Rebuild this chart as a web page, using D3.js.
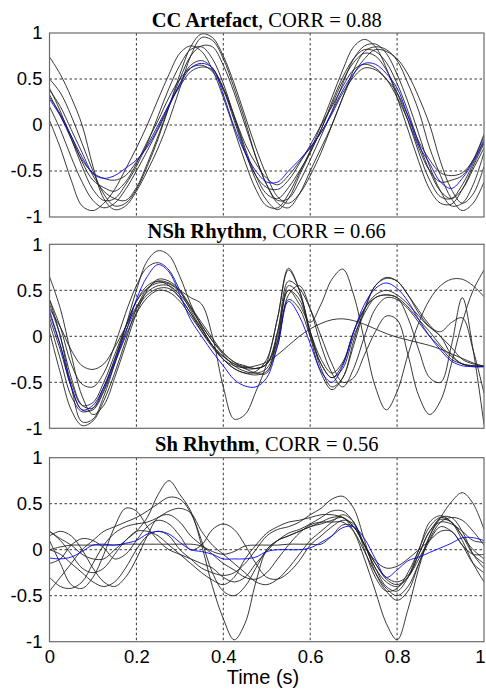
<!DOCTYPE html>
<html><head><meta charset="utf-8">
<script src="https://cdn.jsdelivr.net/npm/d3@7"></script>
<style>body{margin:0;background:#fff}</style>
</head><body><svg id="chart" width="486" height="689"></svg>
<script>
const times = [0,0.025,0.05,0.075,0.1,0.125,0.15,0.175,0.2,0.225,0.25,0.275,0.3,0.325,0.35,0.375,0.4,0.425,0.45,0.475,0.5,0.525,0.55,0.575,0.6,0.625,0.65,0.675,0.7,0.725,0.75,0.775,0.8,0.825,0.85,0.875,0.9,0.925,0.95,0.975,1];
const xTicks = [0,0.2,0.4,0.6,0.8,1];
const xTickLabels = ["0","0.2","0.4","0.6","0.8","1"];
const yTicks = [-1,-0.5,0,0.5,1];
const yTickLabels = ["-1","-0.5","0","0.5","1"];
const titleBold = ["CC Artefact","NSh Rhythm","Sh Rhythm"];
const titleRest = [", CORR = 0.88",", CORR = 0.66",", CORR = 0.56"];
const xAxisLabel = "Time (s)";

// Panel 1: CC Artefact
const cc1 = [0.74,0.55,0.30,0.00,-0.45,-0.80,-0.92,-0.88,-0.72,-0.50,-0.25,0.05,0.40,0.75,0.95,0.92,0.72,0.40,0.05,-0.35,-0.65,-0.85,-0.90,-0.75,-0.50,-0.25,0.00,0.30,0.60,0.80,0.85,0.82,0.70,0.45,0.15,-0.25,-0.55,-0.80,-0.93,-0.85,-0.62];
const cc2 = [0.05,-0.25,-0.60,-0.88,-0.93,-0.85,-0.70,-0.48,-0.25,0.00,0.28,0.55,0.78,0.86,0.80,0.60,0.30,-0.05,-0.40,-0.70,-0.88,-0.90,-0.75,-0.52,-0.28,0.00,0.30,0.60,0.85,0.93,0.85,0.62,0.30,-0.05,-0.40,-0.70,-0.85,-0.86,-0.70,-0.45,-0.20];
const cc3 = [0.40,0.15,-0.15,-0.45,-0.70,-0.82,-0.80,-0.65,-0.45,-0.20,0.10,0.40,0.65,0.82,0.85,0.72,0.45,0.10,-0.25,-0.55,-0.75,-0.80,-0.68,-0.50,-0.30,-0.05,0.25,0.52,0.72,0.82,0.80,0.68,0.45,0.15,-0.20,-0.50,-0.72,-0.80,-0.70,-0.48,-0.25];
const cc4 = [0.50,0.35,0.10,-0.20,-0.50,-0.75,-0.88,-0.85,-0.70,-0.45,-0.15,0.20,0.55,0.85,0.99,0.95,0.75,0.45,0.10,-0.25,-0.55,-0.78,-0.85,-0.75,-0.55,-0.30,0.00,0.30,0.55,0.72,0.82,0.80,0.72,0.55,0.30,0.00,-0.40,-0.70,-0.85,-0.75,-0.45];
const cc5 = [0.33,0.10,-0.15,-0.38,-0.52,-0.58,-0.60,-0.55,-0.40,-0.22,0.00,0.22,0.42,0.58,0.63,0.60,0.40,0.10,-0.20,-0.42,-0.58,-0.65,-0.55,-0.40,-0.25,-0.08,0.12,0.35,0.52,0.62,0.60,0.50,0.35,0.10,-0.18,-0.38,-0.52,-0.55,-0.52,-0.38,-0.12];
const cc6 = [0.20,-0.05,-0.35,-0.62,-0.82,-0.90,-0.85,-0.70,-0.50,-0.28,-0.05,0.20,0.45,0.65,0.70,0.62,0.40,0.08,-0.28,-0.60,-0.82,-0.92,-0.80,-0.55,-0.30,-0.05,0.22,0.48,0.68,0.78,0.75,0.60,0.35,0.05,-0.30,-0.60,-0.78,-0.80,-0.65,-0.42,-0.18];
const cc7 = [0.30,0.12,-0.12,-0.40,-0.60,-0.68,-0.72,-0.62,-0.42,-0.18,0.05,0.30,0.50,0.62,0.65,0.58,0.38,0.05,-0.30,-0.55,-0.68,-0.70,-0.60,-0.42,-0.22,0.00,0.20,0.42,0.60,0.66,0.62,0.50,0.30,0.05,-0.25,-0.50,-0.62,-0.60,-0.55,-0.38,-0.10];
const cc8 = [0.38,0.20,-0.05,-0.30,-0.55,-0.72,-0.80,-0.82,-0.68,-0.42,-0.12,0.20,0.50,0.75,0.86,0.85,0.65,0.35,0.00,-0.35,-0.65,-0.82,-0.80,-0.62,-0.38,-0.12,0.15,0.45,0.72,0.86,0.88,0.78,0.55,0.25,-0.10,-0.45,-0.72,-0.88,-0.85,-0.65,-0.30];
const ccMean = [0.28,0.10,-0.12,-0.35,-0.53,-0.58,-0.55,-0.47,-0.38,-0.24,-0.03,0.22,0.44,0.62,0.67,0.62,0.33,-0.02,-0.30,-0.50,-0.62,-0.62,-0.50,-0.38,-0.24,-0.08,0.14,0.38,0.56,0.67,0.66,0.56,0.40,0.10,-0.22,-0.42,-0.62,-0.69,-0.58,-0.40,-0.16];

// Panel 2: NSh Rhythm
const nsh1 = [0.40,0.00,-0.55,-0.93,-0.90,-0.65,-0.30,0.10,0.50,0.82,0.93,0.88,0.65,0.35,0.10,-0.10,-0.25,-0.35,-0.40,-0.38,-0.25,0.20,0.72,0.50,0.05,-0.35,-0.55,-0.45,-0.05,0.30,0.55,0.63,0.60,0.45,0.25,0.10,0.00,-0.20,-0.30,-0.32,-0.32];
const nsh2 = [0.65,0.30,-0.20,-0.65,-0.85,-0.75,-0.45,-0.10,0.25,0.50,0.62,0.60,0.50,0.32,0.12,-0.05,-0.20,-0.32,-0.38,-0.40,-0.35,-0.05,0.55,0.45,0.05,-0.30,-0.45,-0.35,0.00,0.25,0.42,0.45,0.42,0.32,0.18,0.05,-0.10,-0.22,-0.30,-0.33,-0.33];
const nsh3 = [0.30,0.10,-0.15,-0.32,-0.36,-0.30,-0.12,0.10,0.32,0.48,0.55,0.55,0.45,0.30,0.12,-0.05,-0.18,-0.28,-0.32,-0.35,-0.30,0.00,0.50,0.40,0.05,-0.25,-0.40,-0.28,0.05,0.30,0.45,0.50,0.45,0.35,0.22,0.10,0.05,0.15,0.20,-0.15,-0.62];
const nsh4 = [0.20,-0.15,-0.55,-0.80,-0.80,-0.60,-0.30,0.00,0.25,0.42,0.50,0.48,0.38,0.22,0.05,-0.10,-0.22,-0.30,-0.33,-0.35,-0.30,-0.05,0.45,0.55,0.30,-0.10,-0.40,-0.55,-0.35,0.00,0.30,0.42,0.40,0.30,0.15,0.00,-0.12,-0.25,-0.30,-0.32,-0.33];
const nsh5 = [0.05,-0.40,-0.80,-0.97,-0.92,-0.70,-0.40,-0.05,0.30,0.52,0.60,0.58,0.50,0.42,0.35,0.00,-0.55,-0.90,-0.85,-0.60,-0.30,0.20,0.74,0.50,0.00,-0.40,-0.58,-0.45,-0.10,0.28,0.55,0.64,0.60,0.45,0.28,0.12,0.00,-0.12,-0.25,-0.30,-0.32];
const nsh6 = [0.25,-0.10,-0.50,-0.75,-0.72,-0.50,-0.20,0.10,0.38,0.55,0.60,0.55,0.42,0.25,0.05,-0.12,-0.25,-0.32,-0.34,-0.32,-0.28,-0.20,-0.10,0.00,0.08,0.14,0.18,0.19,0.17,0.13,0.08,0.03,-0.01,-0.04,-0.07,-0.10,-0.14,-0.19,-0.24,-0.29,-0.33];
const nsh7 = [0.35,0.00,-0.45,-0.75,-0.78,-0.58,-0.25,0.10,0.38,0.52,0.58,0.57,0.48,0.32,0.15,-0.02,-0.18,-0.28,-0.35,-0.40,-0.40,0.05,0.50,0.35,0.15,0.35,0.62,0.73,0.45,-0.05,-0.55,-0.80,-0.60,-0.20,0.15,0.40,0.55,0.62,0.62,0.55,0.43];
const nsh8 = [0.40,0.10,-0.30,-0.52,-0.55,-0.40,-0.10,0.25,0.55,0.75,0.80,0.72,0.50,0.28,0.08,-0.10,-0.22,-0.30,-0.35,-0.35,-0.30,0.05,0.60,0.52,0.30,0.00,-0.30,-0.50,-0.45,-0.20,0.05,0.22,0.18,-0.20,-0.65,-0.85,-0.70,-0.30,0.15,0.50,0.72];
const nsh9 = [0.15,-0.25,-0.65,-0.82,-0.78,-0.55,-0.25,0.05,0.30,0.45,0.52,0.52,0.42,0.25,0.08,-0.10,-0.25,-0.35,-0.40,-0.42,-0.38,-0.10,0.40,0.30,0.00,-0.30,-0.45,-0.30,0.05,0.30,0.42,0.45,0.42,0.20,-0.15,-0.45,-0.50,-0.10,0.42,-0.15,-0.96];
const nshMean = [0.28,-0.10,-0.55,-0.80,-0.75,-0.55,-0.28,0.03,0.40,0.65,0.78,0.70,0.45,0.18,0.00,-0.17,-0.32,-0.47,-0.54,-0.55,-0.45,-0.10,0.38,0.22,-0.08,-0.38,-0.50,-0.32,0.05,0.35,0.52,0.58,0.52,0.38,0.18,0.00,-0.15,-0.27,-0.32,-0.33,-0.33];

// Panel 3: Sh Rhythm
const sh1 = [0.20,0.10,-0.05,-0.20,-0.25,-0.20,-0.05,0.10,0.20,0.35,0.60,0.75,0.60,0.42,0.05,-0.40,-0.75,-0.98,-0.80,-0.35,0.00,0.10,0.15,0.20,0.25,0.30,0.35,0.35,0.20,-0.10,-0.45,-0.80,-0.98,-0.65,-0.20,0.15,0.35,0.52,0.62,0.50,0.22];
const sh2 = [-0.45,-0.30,-0.15,0.00,0.10,0.20,0.25,0.30,0.35,0.42,0.50,0.57,0.55,0.40,0.10,-0.25,-0.45,-0.50,-0.40,-0.20,0.00,0.10,0.18,0.22,0.28,0.35,0.42,0.42,0.30,0.05,-0.20,-0.40,-0.45,-0.30,0.00,0.25,0.35,0.30,0.15,-0.05,-0.15];
const sh3 = [0.10,-0.15,-0.38,-0.42,-0.30,-0.05,0.25,0.45,0.42,0.25,0.10,0.00,-0.05,-0.10,-0.15,-0.20,-0.30,-0.35,-0.30,-0.15,-0.02,0.10,0.15,0.20,0.25,0.28,0.32,0.35,0.25,0.05,-0.15,-0.32,-0.38,-0.30,-0.05,0.20,0.33,0.30,0.15,0.00,-0.10];
const sh4 = [0.15,0.20,0.15,0.00,-0.20,-0.35,-0.40,-0.30,-0.10,0.15,0.35,0.38,0.30,0.15,0.05,-0.05,-0.15,-0.22,-0.30,-0.32,-0.25,-0.10,0.05,0.18,0.27,0.30,0.30,0.30,0.20,-0.02,-0.25,-0.42,-0.50,-0.40,-0.15,0.10,0.25,0.20,0.05,-0.15,-0.25];
const sh5 = [0.00,-0.05,-0.15,-0.25,-0.35,-0.40,-0.35,-0.20,0.00,0.15,0.20,0.15,0.00,-0.10,-0.20,-0.25,-0.28,-0.25,-0.15,0.00,0.15,0.22,0.25,0.30,0.38,0.45,0.55,0.58,0.45,0.10,-0.25,-0.45,-0.55,-0.45,-0.15,0.15,0.35,0.35,0.20,-0.05,-0.20];
const sh6 = [0.00,0.03,0.05,0.05,0.05,0.05,0.05,0.06,0.06,0.06,0.06,0.06,0.06,0.06,0.04,-0.02,-0.05,-0.02,0.04,0.05,0.05,0.05,0.06,0.06,0.06,0.06,0.15,0.27,0.25,0.05,-0.12,-0.20,-0.18,-0.10,0.00,0.10,0.20,0.20,0.05,-0.05,-0.05];
const sh7 = [-0.15,-0.10,0.05,0.12,0.10,0.02,-0.10,-0.05,0.10,0.25,0.32,0.28,0.15,0.00,0.05,0.22,0.28,0.22,0.05,-0.15,-0.30,-0.32,-0.25,-0.12,0.05,0.15,0.25,0.32,0.28,0.05,-0.20,-0.35,-0.40,-0.30,-0.10,0.12,0.30,0.35,0.32,0.20,0.05];
const sh8 = [-0.30,-0.40,-0.42,-0.35,-0.15,0.05,0.18,0.25,0.28,0.30,0.35,0.42,0.45,0.40,0.20,0.05,-0.05,-0.15,-0.25,-0.35,-0.38,-0.32,-0.20,-0.05,0.10,0.20,0.30,0.38,0.30,0.00,-0.30,-0.45,-0.42,-0.25,0.00,0.30,0.37,0.30,0.10,-0.15,-0.35];
const sh9 = [0.20,0.12,0.05,-0.05,-0.10,-0.10,0.00,0.10,0.20,0.20,0.15,0.05,-0.05,-0.15,-0.25,-0.33,-0.38,-0.30,-0.10,0.05,0.18,0.25,0.30,0.32,0.35,0.38,0.38,0.35,0.25,0.05,-0.15,-0.30,-0.35,-0.28,-0.05,0.20,0.30,0.28,0.20,0.10,0.08];
const shMean = [-0.09,-0.10,-0.08,-0.02,0.05,0.06,0.05,0.07,0.10,0.17,0.20,0.17,0.08,0.00,-0.02,-0.05,-0.10,-0.10,-0.10,-0.08,-0.02,0.00,0.00,0.00,0.02,0.08,0.15,0.24,0.25,0.12,-0.10,-0.30,-0.22,-0.12,-0.08,-0.03,0.02,0.07,0.13,0.13,0.10];

const panels = [
  {top:33, bottom:217, traces:[cc1,cc2,cc3,cc4,cc5,cc6,cc7,cc8], mean:ccMean},
  {top:244.3, bottom:428.3, traces:[nsh1,nsh2,nsh3,nsh4,nsh5,nsh6,nsh7,nsh8,nsh9], mean:nshMean},
  {top:457.7, bottom:641.7, traces:[sh1,sh2,sh3,sh4,sh5,sh6,sh7,sh8,sh9], mean:shMean}
];

const svg = d3.select("#chart");
svg.append("rect").attr("width",486).attr("height",689).attr("fill","#fff");
const x = d3.scaleLinear().domain([0,1]).range([49.5,484]);
const sansFont = "'Liberation Sans', Arial, sans-serif";
const serifFont = "'Liberation Serif', 'Times New Roman', serif";

panels.forEach((p,i)=>{
  const y = d3.scaleLinear().domain([-1,1]).range([p.bottom,p.top]);
  const g = svg.append("g");
  const clipId = "clip"+i;
  svg.append("clipPath").attr("id",clipId).append("rect")
    .attr("x",x(0)).attr("y",p.top).attr("width",x(1)-x(0)).attr("height",p.bottom-p.top);

  // grid
  const grid = g.append("g").attr("stroke","#000").attr("stroke-width",0.8).attr("stroke-dasharray","2.5,2.5");
  grid.selectAll("line.gx").data(xTicks.slice(1,-1)).join("line")
    .attr("x1",d=>x(d)).attr("x2",d=>x(d)).attr("y1",p.top).attr("y2",p.bottom);
  grid.selectAll("line.gy").data(yTicks.slice(1,-1)).join("line")
    .attr("y1",d=>y(d)).attr("y2",d=>y(d)).attr("x1",x(0)).attr("x2",x(1));

  // traces
  const line = d3.line().x((d,k)=>x(times[k])).y(d=>y(d)).curve(d3.curveCatmullRom.alpha(0.5));
  const lg = g.append("g").attr("clip-path",`url(#${clipId})`).attr("fill","none");
  lg.selectAll("path.trace").data(p.traces).join("path").attr("class","trace")
    .attr("d",line).attr("stroke","#222").attr("stroke-width",0.9);
  lg.append("path").datum(p.mean).attr("d",line).attr("stroke","#0000ff").attr("stroke-width",0.9);

  // frame
  g.append("rect").attr("x",x(0)).attr("y",p.top).attr("width",x(1)-x(0)).attr("height",p.bottom-p.top)
    .attr("fill","none").attr("stroke","#6a6a6a").attr("stroke-width",1.2);

  // y axis labels
  const ya = g.append("g").attr("transform",`translate(${x(0)},0)`)
    .call(d3.axisLeft(y).tickValues(yTicks).tickFormat((d,k)=>yTickLabels[k]).tickSize(0).tickPadding(7));
  ya.select(".domain").remove();
  ya.selectAll("text").attr("font-family",sansFont).attr("font-size","18.5px").attr("fill","#000");

  // x axis labels (bottom panel only)
  if (i===2){
    const xa = g.append("g").attr("transform",`translate(0,${p.bottom})`)
      .call(d3.axisBottom(x).tickValues(xTicks).tickFormat((d,k)=>xTickLabels[k]).tickSize(0).tickPadding(8));
    xa.select(".domain").remove();
    xa.selectAll("text").attr("font-family",sansFont).attr("font-size","18.5px").attr("fill","#000")
      .attr("dx",d=>d===1?"-4":null);
    svg.append("text").attr("x",263).attr("y",684).attr("text-anchor","middle")
      .attr("font-family",sansFont).attr("font-size","20px").text(xAxisLabel);
  }

  // title
  const t = svg.append("text").attr("x",(x(0)+x(1))/2).attr("y",p.top-6.5).attr("text-anchor","middle")
    .attr("font-family",serifFont).attr("font-size","20.5px").attr("fill","#000");
  t.append("tspan").attr("font-weight","bold").text(titleBold[i]);
  t.append("tspan").text(titleRest[i]);
});
</script></body></html>
